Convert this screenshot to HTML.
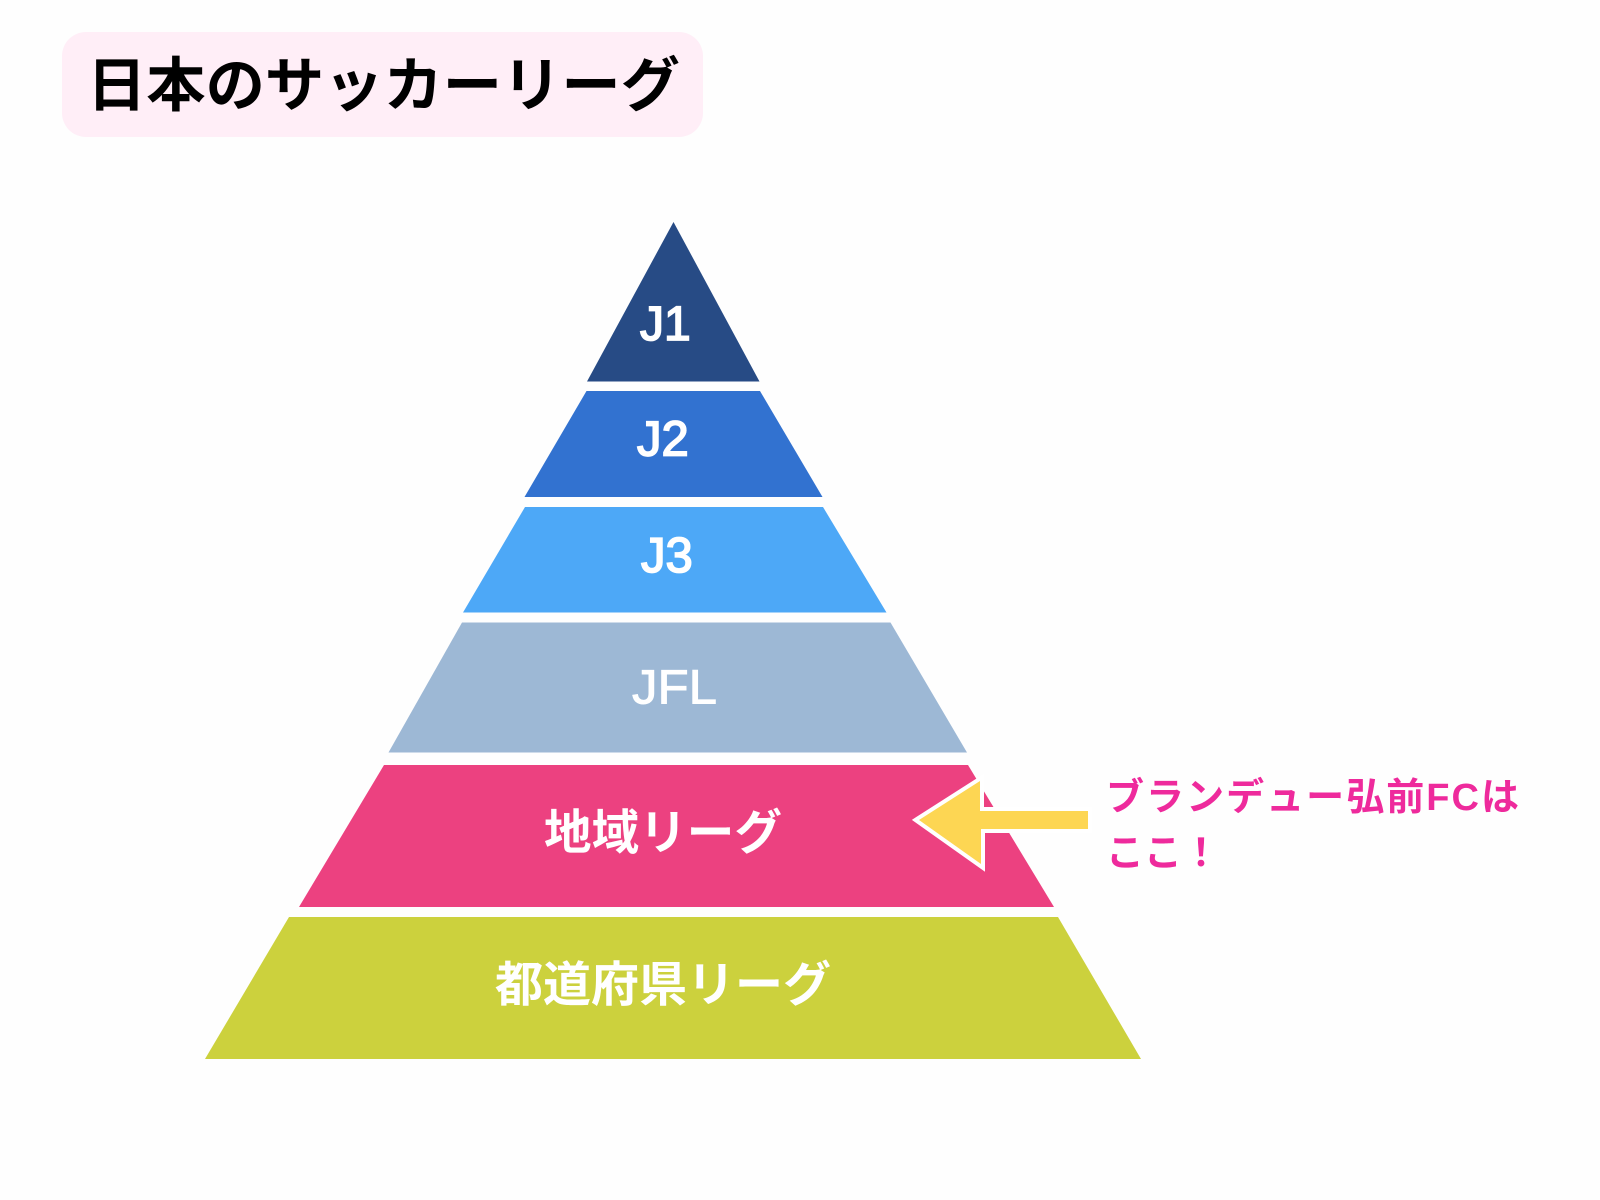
<!DOCTYPE html>
<html lang="ja"><head><meta charset="utf-8"><title>日本のサッカーリーグ</title>
<style>html,body{margin:0;padding:0;background:#fff}svg{display:block}
.c{font-family:"Liberation Sans","Noto Sans CJK JP",sans-serif;font-weight:700}
.l{font-family:"Liberation Sans",sans-serif;stroke:#fff}</style></head>
<body>
<svg width="1600" height="1200" viewBox="0 0 1600 1200" xmlns="http://www.w3.org/2000/svg">
<rect width="1600" height="1200" fill="#fefefe"/>
<rect x="62" y="32" width="641" height="105" rx="24" fill="#ffeef7"/>
<text class="c" x="87" y="106" font-size="59" fill="#000" textLength="593" lengthAdjust="spacingAndGlyphs">日本のサッカーリーグ</text>
<polygon points="673.5,222 759.5,381.5 587,381.5" fill="#274b85"/>
<polygon points="586.5,391 760,391 822.5,497 524.5,497" fill="#3272d0"/>
<polygon points="525,507 823,507 886.5,612.5 463,612.5" fill="#4da8f7"/>
<polygon points="462,622.5 890.5,622.5 967,752.5 388.5,752.5" fill="#9db8d5"/>
<polygon points="384,765 968,765 1054,907 299,907" fill="#ec4180"/>
<polygon points="289,917 1058,917 1141,1059 205,1059" fill="#ccd13d"/>
<text class="l" x="640" y="340" font-size="48" stroke-width="1.7" fill="#fff">J1</text>
<text class="l" x="637" y="455.5" font-size="49" stroke-width="1.7" fill="#fff">J2</text>
<text class="l" x="641" y="572" font-size="49" stroke-width="1.7" fill="#fff">J3</text>
<text class="l" x="632" y="703.5" font-size="48" stroke-width="0.9" fill="#fff" textLength="85" lengthAdjust="spacingAndGlyphs">JFL</text>
<text class="c" x="544" y="849" font-size="48" fill="#fff" textLength="238" lengthAdjust="spacingAndGlyphs">地域リーグ</text>
<text class="c" x="495" y="1001" font-size="48" fill="#fff" textLength="336" lengthAdjust="spacingAndGlyphs">都道府県リーグ</text>
<polygon points="919,820 980,781 980,811 1088,811 1088,829 981,829 981,864" fill="#fdd653" stroke="#fff" stroke-width="8" paint-order="stroke" stroke-linejoin="miter"/>
<text class="c" x="1106" y="810" font-size="38" fill="#ee2a9c" textLength="413">ブランデュー弘前FCは</text>
<text class="c" x="1106" y="866" font-size="38" fill="#ee2a9c">ここ！</text>
</svg>
</body></html>
